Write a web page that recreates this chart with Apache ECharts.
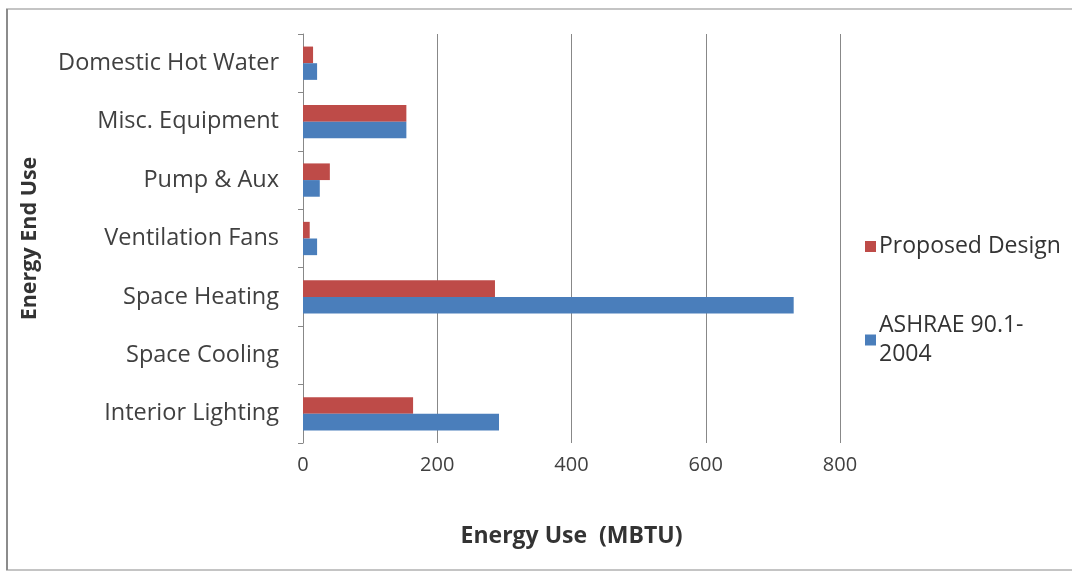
<!DOCTYPE html>
<html>
<head>
<meta charset="utf-8">
<script src="https://cdn.jsdelivr.net/npm/echarts@6/dist/echarts.min.js"></script>
<style>
  html, body { margin: 0; padding: 0; background: #fff; }
  #chart { width: 1072px; height: 572px; }
</style>
</head>
<body>
<div id="chart"></div>
<script>
// categories, bottom to top as drawn on the y axis
const categories = ['Interior Lighting', 'Space Cooling', 'Space Heating', 'Ventilation Fans',
  'Pump & Aux', 'Misc. Equipment', 'Domestic Hot Water'];
const proposed = [164, 0, 286, 10, 40, 154, 15];
const ashrae = [292, 0, 731, 21, 25, 154, 21];
const xTicks = [0, 200, 400, 600, 800];

const font = '"Open Sans", "Noto Sans", sans-serif';
const chart = echarts.init(document.getElementById('chart'));

const option = {
  backgroundColor: '#fff',
  animation: false,
  textStyle: { fontFamily: font },
  graphic: [
    {
      type: 'rect',
      shape: { x: 7, y: 9, width: 1080, height: 561 },
      style: { fill: 'none', stroke: '#c4c4c4', lineWidth: 2 }
    },
    {
      // left edge of the frame is darker
      type: 'line',
      shape: { x1: 7, y1: 9, x2: 7, y2: 570 },
      style: { stroke: '#8c8c8c', lineWidth: 2 }
    }
  ],
  grid: { left: 303, right: 232, top: 34, bottom: 129 },
  legend: {
    orient: 'vertical',
    left: 860,
    top: 227,
    itemWidth: 11,
    itemHeight: 11,
    itemGap: 50,
    icon: 'rect',
    data: ['Proposed Design', 'ASHRAE 90.1-\n2004'],
    textStyle: { fontSize: 23, color: '#333', fontFamily: font, lineHeight: 29, padding: [0, 0, 0, -2] }
  },
  xAxis: {
    type: 'value',
    min: xTicks[0],
    max: xTicks[xTicks.length - 1],
    interval: 200,
    name: 'Energy Use  (MBTU)',
    nameLocation: 'middle',
    nameGap: 82,
    nameTextStyle: { fontSize: 23, fontWeight: 'bold', color: '#333' },
    axisLine: { show: false },
    axisTick: { show: false },
    axisLabel: { fontSize: 20, color: '#404040', margin: 12 },
    splitLine: { show: true, lineStyle: { color: '#888', width: 1 } }
  },
  yAxis: {
    type: 'category',
    data: categories,
    name: 'Energy End Use',
    nameLocation: 'middle',
    nameGap: 262,
    nameRotate: 90,
    nameTextStyle: { fontSize: 21.5, fontWeight: 'bold', color: '#333' },
    axisLine: { show: true, lineStyle: { color: '#888' } },
    axisTick: { show: true, inside: false, length: 5, lineStyle: { color: '#888' } },
    axisLabel: { fontSize: 23.5, color: '#404040', margin: 24 }
  },
  series: [
    {
      name: 'Proposed Design',
      type: 'bar',
      data: proposed,
      barGap: '0%',
      barCategoryGap: '43%',
      itemStyle: { color: '#be4b48' }
    },
    {
      name: 'ASHRAE 90.1-\n2004',
      type: 'bar',
      data: ashrae,
      barGap: '0%',
      barCategoryGap: '43%',
      itemStyle: { color: '#4a7ebb' }
    }
  ]
};
chart.setOption(option);
</script>
</body>
</html>
